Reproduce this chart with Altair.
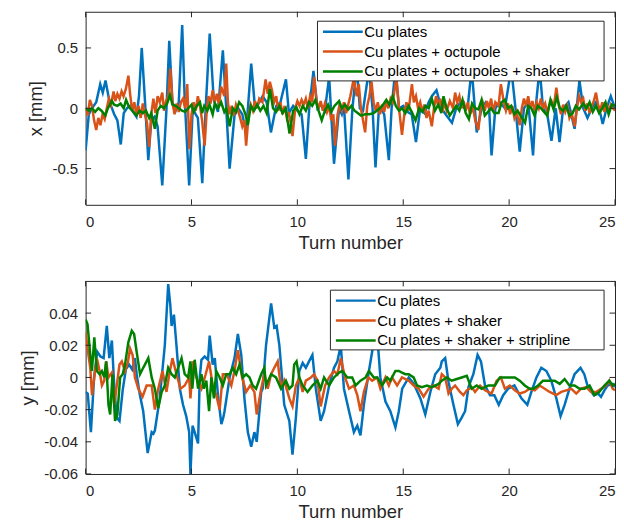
import altair as alt
import pandas as pd

# ---------------- data (turn number, value) ----------------
x_labels = ["Cu plates", "Cu plates + octupole", "Cu plates + octupoles + shaker"]
y_labels = ["Cu plates", "Cu plates + shaker", "Cu plates + shaker + stripline"]

x_blue = [(0.0,-0.35),(0.15,-0.05),(0.3,0.0),(0.5,0.05),(0.69,0.2),(0.81,0.13),(0.94,0.23),(1.1,0.08),(1.2,0.02),(1.35,-0.05),(1.5,-0.1),(1.66,-0.30),(1.8,-0.04),(1.95,0.0),(2.1,0.02),(2.25,-0.03),(2.4,-0.07),(2.52,0.1),(2.65,0.50),(2.8,0.07),(2.96,-0.43),(3.1,-0.1),(3.26,-0.07),(3.4,-0.15),(3.62,-0.64),(3.82,0.0),(3.95,0.56),(4.1,0.05),(4.25,-0.02),(4.4,0.05),(4.56,0.69),(4.68,0.07),(4.89,-0.64),(5.06,0.0),(5.2,-0.05),(5.3,-0.08),(5.51,-0.62),(5.67,0.0),(5.86,0.62),(6.05,0.07),(6.25,-0.03),(6.48,0.48),(6.64,0.0),(6.8,-0.50),(7.03,-0.06),(7.2,0.0),(7.4,-0.05),(7.58,-0.2),(7.82,0.37),(8.0,0.0),(8.2,0.05),(8.36,0.1),(8.55,0.05),(8.75,-0.2),(9.0,0.02),(9.2,0.05),(9.46,0.24),(9.6,-0.04),(9.8,0.02),(10.0,-0.02),(10.2,-0.05),(10.4,-0.42),(10.56,0.0),(10.76,0.31),(10.95,0.0),(11.1,0.03),(11.3,-0.02),(11.5,0.26),(11.73,-0.46),(11.97,0.0),(12.1,-0.05),(12.2,0.02),(12.41,-0.59),(12.6,0.0),(12.8,0.35),(12.95,0.0),(13.1,-0.02),(13.38,0.32),(13.55,0.0),(13.69,-0.49),(13.85,0.0),(14.0,-0.02),(14.1,-0.05),(14.32,-0.43),(14.45,0.0),(14.63,0.33),(14.8,0.0),(15.0,0.02),(15.2,-0.03),(15.4,-0.05),(15.6,-0.28),(15.8,0.0),(16.0,-0.04),(16.2,0.05),(16.35,0.1),(16.57,0.15),(16.8,0.0),(17.0,-0.05),(17.3,-0.12),(17.5,0.0),(17.7,0.05),(17.9,0.0),(18.05,0.02),(18.23,0.33),(18.47,-0.20),(18.7,0.0),(18.9,0.05),(19.05,0.02),(19.17,-0.39),(19.35,0.0),(19.55,0.05),(19.8,0.0),(20.1,0.33),(20.3,0.0),(20.5,-0.36),(20.7,0.0),(20.9,0.05),(21.13,-0.39),(21.25,0.0),(21.44,0.33),(21.6,0.0),(21.8,-0.05),(22.0,-0.27),(22.2,0.0),(22.38,-0.28),(22.55,0.0),(22.8,0.05),(23.09,-0.17),(23.32,0.23),(23.5,0.0),(23.7,-0.08),(23.9,0.0),(24.1,0.05),(24.25,0.0),(24.42,-0.13),(24.6,0.0),(24.8,0.1),(25.0,0.0)]

x_orange = [(0.0,0.0),(0.1,-0.06),(0.2,0.07),(0.3,0.02),(0.4,-0.1),(0.5,-0.18),(0.6,-0.08),(0.7,-0.14),(0.8,-0.05),(0.9,-0.09),(1.0,0.0),(1.1,0.08),(1.2,0.03),(1.32,0.14),(1.4,0.06),(1.5,0.12),(1.6,0.08),(1.7,0.14),(1.79,0.1),(1.9,0.16),(2.02,0.27),(2.1,0.12),(2.2,-0.02),(2.3,0.05),(2.4,-0.06),(2.5,0.02),(2.6,-0.08),(2.7,0.04),(2.8,-0.05),(2.9,-0.12),(3.0,-0.32),(3.1,-0.05),(3.2,0.08),(3.3,-0.04),(3.4,0.1),(3.5,0.05),(3.62,0.13),(3.7,-0.02),(3.8,0.06),(3.9,0.1),(4.0,0.33),(4.1,0.05),(4.2,-0.05),(4.3,0.04),(4.4,-0.03),(4.5,0.05),(4.6,0.08),(4.7,0.0),(4.8,0.2),(4.9,-0.34),(5.0,-0.05),(5.1,0.05),(5.2,-0.02),(5.3,0.1),(5.4,0.02),(5.5,-0.1),(5.62,-0.31),(5.72,-0.02),(5.8,0.1),(5.9,0.04),(6.0,0.15),(6.1,0.05),(6.2,0.12),(6.3,0.03),(6.4,0.18),(6.55,0.1),(6.64,0.37),(6.72,0.05),(6.8,-0.05),(6.9,0.02),(7.0,-0.06),(7.1,0.03),(7.2,-0.02),(7.3,-0.08),(7.4,-0.15),(7.5,-0.1),(7.58,-0.31),(7.7,-0.05),(7.8,0.03),(7.9,-0.02),(8.0,0.06),(8.1,0.0),(8.2,0.08),(8.35,0.05),(8.5,0.24),(8.6,0.12),(8.7,0.22),(8.8,0.15),(8.9,0.05),(9.0,0.1),(9.1,-0.02),(9.2,0.05),(9.3,-0.05),(9.4,0.02),(9.5,-0.08),(9.6,-0.03),(9.7,-0.14),(9.77,-0.23),(9.9,0.0),(10.0,0.06),(10.1,0.02),(10.2,0.07),(10.3,0.03),(10.4,0.08),(10.5,0.0),(10.6,0.1),(10.7,0.05),(10.79,0.26),(10.9,0.06),(11.0,0.0),(11.1,0.06),(11.2,-0.02),(11.3,0.04),(11.4,-0.03),(11.5,0.02),(11.6,-0.1),(11.7,-0.05),(11.78,-0.31),(11.9,-0.05),(12.0,0.03),(12.1,-0.02),(12.2,0.05),(12.3,-0.04),(12.4,0.03),(12.5,0.1),(12.67,0.25),(12.8,0.1),(12.9,0.2),(13.0,0.0),(13.1,-0.1),(13.2,-0.2),(13.3,0.02),(13.4,0.1),(13.5,0.22),(13.6,0.05),(13.7,-0.02),(13.8,0.05),(13.9,-0.05),(14.0,0.03),(14.1,-0.03),(14.2,0.06),(14.3,0.0),(14.4,0.08),(14.5,0.05),(14.68,0.25),(14.8,0.0),(14.94,-0.22),(15.05,-0.05),(15.15,0.05),(15.25,-0.02),(15.41,0.2),(15.5,0.05),(15.6,0.1),(15.7,0.0),(15.8,0.05),(15.9,-0.03),(16.0,0.03),(16.1,-0.08),(16.2,-0.02),(16.35,-0.15),(16.45,0.0),(16.55,0.1),(16.65,0.02),(16.75,0.08),(16.85,-0.03),(16.95,0.05),(17.05,-0.02),(17.2,0.06),(17.35,0.0),(17.45,0.13),(17.55,0.05),(17.65,0.1),(17.75,0.0),(17.85,0.06),(17.95,-0.02),(18.05,0.05),(18.15,-0.05),(18.3,0.0),(18.4,-0.1),(18.55,-0.18),(18.65,0.0),(18.75,0.05),(18.85,-0.02),(18.95,0.06),(19.05,0.0),(19.15,0.08),(19.25,-0.03),(19.35,0.05),(19.5,0.02),(19.61,0.2),(19.75,0.05),(19.85,-0.02),(19.95,0.04),(20.05,-0.05),(20.15,0.02),(20.25,-0.08),(20.35,-0.03),(20.5,-0.14),(20.6,0.0),(20.7,0.08),(20.8,0.02),(20.9,0.1),(21.0,0.0),(21.1,0.06),(21.2,-0.02),(21.3,0.05),(21.4,0.0),(21.5,0.08),(21.6,0.0),(21.7,0.04),(21.8,-0.04),(21.9,0.03),(22.0,0.06),(22.1,0.0),(22.23,0.17),(22.35,0.02),(22.45,-0.05),(22.55,0.03),(22.65,-0.03),(22.75,0.02),(22.85,-0.08),(22.95,-0.04),(23.1,-0.15),(23.2,0.0),(23.3,0.1),(23.4,0.05),(23.5,0.08),(23.6,-0.02),(23.7,0.04),(23.8,-0.04),(23.9,0.02),(24.0,0.06),(24.1,0.13),(24.2,0.03),(24.3,-0.02),(24.4,0.05),(24.5,-0.03),(24.6,0.04),(24.7,-0.04),(24.8,0.03),(24.9,0.0),(25.0,-0.02)]

x_green = [(0.0,0.0),(0.15,-0.02),(0.3,0.0),(0.45,-0.03),(0.6,0.0),(0.75,-0.02),(0.93,-0.06),(1.05,0.0),(1.24,0.06),(1.35,0.03),(1.5,0.02),(1.65,0.04),(1.8,0.0),(1.91,0.07),(2.05,0.01),(2.2,-0.02),(2.4,-0.06),(2.55,-0.02),(2.7,-0.04),(2.85,-0.02),(3.0,-0.08),(3.1,-0.04),(3.27,-0.17),(3.4,-0.02),(3.55,0.02),(3.7,0.0),(3.85,0.04),(3.98,0.11),(4.1,0.03),(4.25,0.02),(4.4,0.0),(4.55,-0.02),(4.7,-0.03),(4.85,0.0),(5.0,0.03),(5.1,-0.03),(5.25,0.02),(5.4,0.05),(5.5,-0.04),(5.6,0.02),(5.75,-0.02),(5.85,0.03),(6.0,-0.05),(6.1,0.04),(6.25,0.0),(6.4,0.05),(6.55,-0.03),(6.65,0.0),(6.8,-0.15),(6.95,0.0),(7.1,-0.03),(7.25,0.05),(7.4,0.02),(7.55,-0.05),(7.66,-0.14),(7.8,0.02),(7.95,-0.02),(8.1,0.03),(8.25,-0.02),(8.4,0.02),(8.55,-0.04),(8.7,0.16),(8.85,0.0),(9.0,-0.03),(9.15,0.02),(9.3,-0.04),(9.45,0.0),(9.63,-0.21),(9.8,-0.02),(9.95,0.01),(10.1,-0.05),(10.25,0.02),(10.4,-0.02),(10.55,0.05),(10.7,0.02),(10.85,0.07),(11.0,-0.02),(11.15,-0.1),(11.3,-0.02),(11.45,0.03),(11.6,-0.03),(11.75,0.02),(11.97,0.06),(12.1,0.0),(12.25,0.03),(12.4,-0.01),(12.55,0.02),(12.7,-0.02),(12.85,-0.04),(13.0,-0.06),(13.2,-0.05),(13.4,-0.05),(13.6,-0.04),(13.75,-0.02),(13.9,0.0),(14.05,0.03),(14.2,0.07),(14.35,0.03),(14.5,0.1),(14.65,0.02),(14.8,-0.02),(14.95,0.0),(15.1,-0.04),(15.25,0.02),(15.4,-0.03),(15.58,-0.1),(15.75,0.0),(15.9,-0.03),(16.05,0.02),(16.2,0.0),(16.35,0.08),(16.5,-0.02),(16.65,0.03),(16.8,-0.04),(16.9,0.1),(17.05,0.0),(17.2,-0.06),(17.35,-0.02),(17.5,0.02),(17.65,-0.02),(17.8,0.07),(17.95,-0.04),(18.1,-0.09),(18.25,0.04),(18.4,0.0),(18.55,-0.01),(18.7,0.07),(18.85,-0.06),(19.0,-0.03),(19.15,0.0),(19.3,-0.04),(19.5,-0.04),(19.65,0.05),(19.8,0.07),(19.95,0.0),(20.1,0.02),(20.25,-0.05),(20.4,-0.02),(20.6,-0.08),(20.75,-0.12),(20.9,0.02),(21.05,0.0),(21.2,-0.06),(21.35,0.02),(21.5,0.0),(21.65,-0.03),(21.8,-0.06),(21.95,0.07),(22.1,-0.01),(22.25,0.09),(22.4,0.0),(22.55,-0.02),(22.7,0.02),(22.85,-0.06),(23.0,-0.04),(23.15,0.02),(23.3,-0.01),(23.5,0.04),(23.65,0.0),(23.8,0.05),(23.95,-0.03),(24.1,0.02),(24.25,-0.04),(24.4,0.0),(24.55,0.05),(24.7,-0.05),(24.85,0.03),(25.0,0.02)]

y_blue = [(0.0,-0.009),(0.1,-0.01),(0.25,-0.034),(0.4,0.0),(0.55,0.016),(0.7,0.013),(0.85,0.012),(1.0,0.032),(1.12,0.012),(1.24,0.023),(1.35,-0.005),(1.47,-0.025),(1.6,-0.027),(1.75,-0.008),(1.9,0.005),(2.05,0.008),(2.2,0.005),(2.33,0.012),(2.41,0.002),(2.55,-0.01),(2.72,-0.021),(2.93,-0.047),(3.12,-0.034),(3.2,-0.035),(3.27,-0.033),(3.5,-0.013),(3.74,0.02),(3.9,0.058),(4.0,0.045),(4.06,0.032),(4.17,0.039),(4.29,0.02),(4.45,-0.007),(4.6,-0.017),(4.75,-0.024),(4.89,-0.034),(4.95,-0.06),(5.05,-0.03),(5.15,-0.034),(5.31,-0.041),(5.39,0.0),(5.47,0.011),(5.62,0.013),(5.78,0.011),(5.86,0.026),(6.0,0.008),(6.1,0.012),(6.25,-0.011),(6.41,-0.029),(6.5,-0.025),(6.56,-0.021),(6.8,0.0),(7.03,0.012),(7.19,0.027),(7.35,0.014),(7.5,-0.013),(7.66,-0.034),(7.82,-0.043),(7.97,-0.034),(8.08,-0.04),(8.29,-0.009),(8.36,-0.007),(8.52,0.02),(8.76,0.046),(8.91,0.031),(9.02,0.032),(9.15,0.02),(9.38,-0.017),(9.62,-0.027),(9.77,-0.048),(9.93,-0.025),(10.09,0.004),(10.25,0.009),(10.4,0.006),(10.55,0.01),(10.71,0.014),(10.87,-0.007),(11.1,-0.027),(11.26,-0.021),(11.5,-0.005),(11.73,0.006),(11.89,0.01),(12.05,0.02),(12.2,-0.007),(12.44,-0.021),(12.67,-0.034),(12.83,-0.03),(12.98,-0.036),(13.14,-0.017),(13.38,0.004),(13.53,0.016),(13.75,0.03),(13.92,0.0),(14.16,-0.015),(14.39,-0.021),(14.63,-0.031),(14.79,-0.021),(14.95,-0.007),(15.26,0.0),(15.5,-0.004),(15.81,-0.013),(16.04,-0.023),(16.28,-0.009),(16.51,0.002),(16.75,0.006),(16.82,0.01),(16.98,0.012),(17.14,-0.003),(17.37,-0.017),(17.58,-0.029),(17.76,-0.025),(17.92,-0.021),(18.08,-0.006),(18.31,0.002),(18.51,0.014),(18.67,0.01),(18.86,-0.005),(19.1,-0.011),(19.3,-0.011),(19.51,-0.017),(19.72,-0.011),(19.95,-0.007),(20.25,-0.005),(20.58,-0.013),(20.86,-0.017),(21.05,-0.009),(21.29,0.0),(21.52,0.006),(21.76,0.004),(21.99,-0.002),(22.23,-0.013),(22.43,-0.024),(22.62,-0.017),(22.85,-0.007),(23.09,0.002),(23.37,0.006),(23.55,0.002),(23.7,-0.005),(24.0,-0.011),(24.2,-0.01),(24.34,-0.012),(24.5,-0.008),(24.65,-0.005),(24.89,-0.004),(25.0,-0.006)]

y_orange = [(0.0,0.028),(0.09,0.018),(0.22,0.006),(0.3,-0.011),(0.41,0.0),(0.53,0.012),(0.66,0.004),(0.77,-0.005),(0.88,-0.002),(0.97,0.01),(1.08,0.0),(1.24,0.003),(1.35,-0.017),(1.47,-0.005),(1.6,0.008),(1.71,0.01),(1.86,0.004),(1.99,0.009),(2.1,0.018),(2.22,0.014),(2.33,0.0),(2.49,-0.007),(2.69,-0.012),(2.88,-0.005),(3.12,-0.005),(3.27,-0.02),(3.43,-0.007),(3.63,0.004),(3.82,-0.009),(3.95,0.002),(4.1,0.012),(4.29,0.002),(4.48,-0.007),(4.68,-0.005),(4.89,0.0),(4.95,-0.013),(5.07,0.01),(5.23,0.0),(5.47,-0.007),(5.67,0.002),(5.83,0.01),(6.0,-0.005),(6.17,-0.011),(6.33,-0.02),(6.48,0.002),(6.67,0.002),(6.88,-0.005),(7.03,0.004),(7.19,0.017),(7.39,0.0),(7.58,-0.009),(7.77,-0.005),(7.97,-0.009),(8.08,-0.023),(8.29,-0.007),(8.44,0.002),(8.6,-0.007),(8.76,0.002),(8.91,0.006),(9.07,0.01),(9.23,-0.007),(9.38,-0.002),(9.62,-0.013),(9.77,-0.018),(9.93,-0.005),(10.09,0.0),(10.25,-0.009),(10.4,-0.002),(10.64,0.0),(10.79,0.002),(10.95,-0.002),(11.1,-0.018),(11.31,-0.005),(11.5,0.0),(11.73,0.004),(11.89,0.002),(12.05,0.012),(12.25,0.0),(12.44,-0.007),(12.67,-0.005),(12.83,-0.011),(12.98,-0.021),(13.14,-0.009),(13.35,0.0),(13.53,-0.002),(13.77,0.0),(13.92,-0.007),(14.16,0.0),(14.32,-0.005),(14.47,0.0),(14.71,-0.005),(14.94,0.0),(15.26,-0.002),(15.49,-0.005),(15.73,-0.007),(15.96,-0.012),(16.2,-0.007),(16.43,-0.005),(16.67,-0.007),(16.82,0.002),(16.98,0.0),(17.14,-0.01),(17.29,-0.007),(17.45,-0.005),(17.68,-0.009),(17.84,-0.011),(18.0,-0.008),(18.23,-0.006),(18.39,-0.009),(18.63,-0.005),(18.86,-0.008),(19.17,-0.01),(19.41,-0.002),(19.61,0.0),(19.8,-0.007),(20.03,-0.005),(20.27,-0.008),(20.5,-0.01),(20.74,-0.009),(20.97,-0.007),(21.21,-0.008),(21.44,-0.005),(21.68,-0.007),(21.91,-0.009),(22.23,-0.011),(22.46,-0.009),(22.7,-0.008),(22.93,-0.007),(23.17,-0.01),(23.4,-0.007),(23.64,-0.006),(23.87,-0.009),(24.11,-0.009),(24.34,-0.007),(24.57,-0.005),(24.73,-0.002),(24.89,-0.007),(25.0,-0.008)]

y_green = [(0.0,0.036),(0.09,0.033),(0.22,0.014),(0.3,0.004),(0.41,0.025),(0.53,0.004),(0.66,0.002),(0.77,0.004),(0.88,0.0),(0.97,0.01),(1.08,-0.017),(1.16,-0.023),(1.27,0.002),(1.39,-0.027),(1.5,-0.023),(1.63,0.0),(1.75,0.002),(1.86,0.008),(2.02,0.022),(2.18,0.029),(2.29,0.027),(2.41,0.016),(2.57,0.002),(2.72,0.006),(2.96,0.012),(3.12,0.0),(3.27,-0.007),(3.43,-0.019),(3.59,-0.009),(3.74,-0.005),(3.9,0.006),(4.06,0.002),(4.21,0.0),(4.37,0.006),(4.53,0.012),(4.68,0.002),(4.84,0.0),(4.95,0.01),(5.04,-0.007),(5.15,0.011),(5.31,-0.007),(5.47,0.002),(5.58,-0.007),(5.7,-0.002),(5.83,-0.021),(5.94,0.0),(6.06,-0.013),(6.17,0.004),(6.33,0.0),(6.48,-0.005),(6.64,0.002),(6.8,0.002),(6.95,0.006),(7.11,0.002),(7.27,0.008),(7.42,0.0),(7.58,0.002),(7.74,0.0),(7.89,-0.005),(8.05,-0.007),(8.29,0.002),(8.44,0.006),(8.52,-0.005),(8.76,0.002),(8.99,0.0),(9.23,-0.007),(9.46,-0.002),(9.62,-0.007),(9.77,-0.005),(9.85,0.008),(9.96,0.01),(10.09,0.0),(10.25,-0.005),(10.48,-0.009),(10.71,-0.005),(10.95,-0.002),(11.1,-0.007),(11.26,0.0),(11.5,-0.005),(11.73,0.0),(11.97,0.003),(12.12,0.004),(12.36,0.0),(12.59,0.0),(12.75,-0.005),(12.98,-0.002),(13.22,0.0),(13.38,0.004),(13.61,0.0),(13.77,0.0),(14.0,-0.005),(14.24,0.0),(14.39,-0.002),(14.63,0.004),(14.79,0.004),(14.94,0.003),(15.1,0.002),(15.26,0.002),(15.49,0.0),(15.65,-0.005),(15.88,-0.006),(16.12,-0.005),(16.35,-0.006),(16.67,-0.004),(16.82,-0.002),(17.06,0.0),(17.29,-0.002),(17.53,-0.001),(17.76,0.0),(18.0,0.001),(18.23,-0.007),(18.47,-0.005),(18.7,-0.007),(19.02,-0.005),(19.33,-0.005),(19.56,0.0),(19.8,0.0),(20.03,0.0),(20.27,0.0),(20.5,-0.002),(20.74,-0.005),(20.97,-0.007),(21.13,-0.007),(21.37,-0.005),(21.6,-0.002),(21.84,-0.002),(22.15,-0.002),(22.39,-0.004),(22.62,-0.001),(22.85,-0.005),(23.09,-0.005),(23.33,-0.007),(23.56,-0.007),(23.8,-0.005),(24.03,-0.011),(24.26,-0.009),(24.5,-0.005),(24.73,-0.002),(24.89,-0.005),(25.0,-0.004)]

x_ticks = [0, 5, 10, 15, 20, 25]
top_y_ticks = [-0.5, 0, 0.5]
bot_y_ticks = [-0.06, -0.04, -0.02, 0, 0.02, 0.04]

# ---------------- styling ----------------
BLUE, ORANGE, GREEN = "#0072BD", "#D95319", "#008000"
AX = "#262626"
FONT = "Liberation Sans"
W, H = 532, 194
TL = 5.5


def frame(pairs, name):
    return pd.DataFrame({"turn": [p[0] for p in pairs],
                         "val": [p[1] for p in pairs],
                         "series": name})


def panel(series, names, ydom, yticks, ytitle, lx, ly, box_w):
    xscale = alt.Scale(domain=[0, 25], nice=False, zero=False)
    yscale = alt.Scale(domain=ydom, nice=False, zero=False)
    cscale = alt.Scale(domain=names, range=[BLUE, ORANGE, GREEN])
    legend = alt.Legend(title=None, orient="none", legendX=lx, legendY=ly,
                        symbolType="M-1,0H7", symbolSize=100, symbolStrokeWidth=2.5,
                        labelFontSize=15, labelOffset=29, labelColor="black", labelFont=FONT,
                        padding=3, rowPadding=4, labelLimit=400)
    xaxis = alt.Axis(values=x_ticks, title="Turn number", ticks=False, domain=False,
                     grid=False, labelPadding=10, titlePadding=4,
                     labelExpr="datum.value + ''")
    yaxis = alt.Axis(values=yticks, title=ytitle, ticks=False, domain=False,
                     grid=False, labelPadding=8, titlePadding=6,
                     labelExpr="datum.value + ''")

    lines = []
    for pairs, name in zip(series, names):
        lines.append(
            alt.Chart(frame(pairs, name)).mark_line(strokeWidth=2.5, clip=True).encode(
                x=alt.X("turn:Q", scale=xscale, axis=xaxis),
                y=alt.Y("val:Q", scale=yscale, axis=yaxis),
                color=alt.Color("series:N", scale=cscale, legend=legend),
            )
        )

    # legend frame (white box with dark border) drawn over the lines
    box = alt.Chart(pd.DataFrame({"b": [0]})).mark_rect(
        fill="white", stroke=AX, strokeWidth=1).encode(
        x=alt.value(lx), x2=alt.value(lx + box_w),
        y=alt.value(ly), y2=alt.value(ly + 60))

    xt = alt.Chart(pd.DataFrame({"tv": x_ticks})).mark_rule(color=AX, strokeWidth=1)
    yt = alt.Chart(pd.DataFrame({"yv": yticks})).mark_rule(color=AX, strokeWidth=1)
    xenc = alt.X("tv:Q", scale=xscale, axis=xaxis)
    yenc = alt.Y("yv:Q", scale=yscale, axis=yaxis)
    ticks = [
        xt.encode(x=xenc, y=alt.value(0), y2=alt.value(TL)),
        xt.encode(x=xenc, y=alt.value(H), y2=alt.value(H - TL)),
        yt.encode(y=yenc, x=alt.value(0), x2=alt.value(TL)),
        yt.encode(y=yenc, x=alt.value(W - TL), x2=alt.value(W)),
    ]
    return alt.layer(*lines, *ticks, box).properties(width=W, height=H)


top = panel([x_blue, x_orange, x_green], x_labels, [-0.8, 0.8], top_y_ticks,
            "x [mm]", 233, 9.5, 288)
bottom = panel([y_blue, y_orange, y_green], y_labels, [-0.06, 0.06], bot_y_ticks,
               "y [mm]", 246, 9.3, 275)

chart = alt.vconcat(top, bottom, spacing=27.5).resolve_scale(
    color="independent").resolve_legend(color="independent").properties(
    padding={"left": 10, "top": 1.5, "right": 0, "bottom": 0}
).configure(font=FONT).configure_view(stroke=AX, strokeWidth=1).configure_axis(
    labelFontSize=15, titleFontSize=18.5, labelColor=AX, titleColor=AX,
    titleFontWeight="normal", labelFont=FONT, titleFont=FONT)

chart.save("out.html", embed_options={"renderer": "svg", "actions": False})
